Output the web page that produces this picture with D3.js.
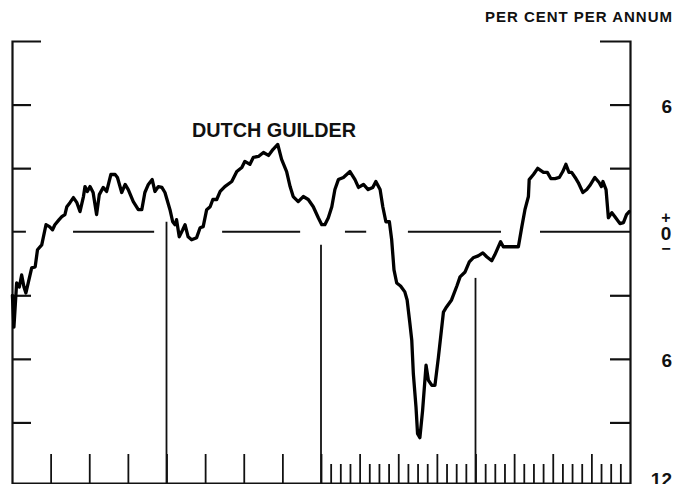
<!DOCTYPE html>
<html>
<head>
<meta charset="utf-8">
<script src="https://cdn.jsdelivr.net/npm/d3@7"></script>
<style>
  body { margin: 0; background: #fff; }
  svg { display: block; }
  text { font-family: "Liberation Sans", Arial, sans-serif; font-weight: bold; fill: #111; }
</style>
</head>
<body>
<div id="chart"></div>
<script>
// time runs in years from the left axis (0) to the right axis (16)
var times = [0.01, 0.05, 0.12, 0.19, 0.25, 0.31, 0.36, 0.42, 0.51, 0.60, 0.66, 0.77, 0.88, 0.97, 1.05, 1.11, 1.22, 1.29, 1.37, 1.42,
  1.50, 1.59, 1.68, 1.76, 1.85, 1.89, 1.95, 2.02, 2.10, 2.19, 2.26, 2.36, 2.45, 2.56, 2.67, 2.73, 2.84, 2.93, 3.01, 3.14,
  3.27, 3.36, 3.44, 3.53, 3.63, 3.70, 3.79, 3.88, 3.96, 4.09, 4.16, 4.22, 4.26, 4.33, 4.42, 4.48, 4.56, 4.65, 4.78, 4.87,
  4.95, 5.04, 5.13, 5.20, 5.30, 5.39, 5.51, 5.69, 5.82, 5.95, 6.03, 6.16, 6.25, 6.38, 6.51, 6.64, 6.76, 6.88, 6.98, 7.11,
  7.20, 7.28, 7.41, 7.54, 7.67, 7.80, 7.93, 8.02, 8.10, 8.19, 8.28, 8.36, 8.45, 8.58, 8.75, 8.88, 8.97, 9.10, 9.22, 9.34,
  9.42, 9.53, 9.60, 9.68, 9.77, 9.83, 9.89, 9.96, 10.06, 10.17, 10.23, 10.30, 10.35, 10.39, 10.46, 10.50, 10.56, 10.63, 10.72, 10.78,
  10.87, 10.95, 11.04, 11.17, 11.25, 11.38, 11.52, 11.60, 11.73, 11.84, 11.94, 12.07, 12.19, 12.29, 12.42, 12.50, 12.65, 12.72, 12.94, 13.11,
  13.20, 13.28, 13.37, 13.39, 13.50, 13.61, 13.76, 13.86, 13.95, 14.06, 14.17, 14.26, 14.34, 14.42, 14.49, 14.58, 14.66, 14.78, 14.88, 14.96,
  15.09, 15.20, 15.26, 15.30, 15.38, 15.44, 15.53, 15.61, 15.74, 15.83, 15.91, 15.98];

// forward premium (+) / discount (-) of the guilder, per cent per annum
var premium = [-3.00, -4.50, -2.42, -2.61, -2.04, -2.61, -2.89, -2.42, -1.71, -1.66, -0.85, -0.62, 0.33, 0.24, 0.09, 0.33, 0.57, 0.71, 0.81, 1.18,
  1.37, 1.61, 1.37, 0.95, 1.66, 2.13, 1.90, 2.13, 1.85, 0.81, 1.75, 2.09, 1.90, 2.70, 2.70, 2.56, 1.85, 2.23, 1.99, 1.42,
  1.04, 1.04, 1.85, 2.23, 2.46, 1.90, 2.13, 2.09, 1.85, 1.04, 0.47, 0.33, 0.57, -0.24, 0.09, 0.33, -0.24, -0.38, -0.28, 0.19,
  0.24, 1.04, 1.18, 1.52, 1.52, 1.90, 2.13, 2.37, 2.84, 3.03, 3.32, 3.18, 3.51, 3.55, 3.74, 3.60, 3.89, 4.12, 3.41, 2.84,
  2.13, 1.66, 1.42, 1.66, 1.52, 1.18, 0.66, 0.33, 0.33, 0.66, 1.18, 1.99, 2.46, 2.56, 2.84, 2.46, 2.09, 2.23, 1.99, 2.09,
  2.37, 1.99, 1.18, 0.47, 0.47, -0.38, -1.80, -2.42, -2.56, -2.84, -3.22, -4.31, -5.12, -6.68, -8.29, -9.53, -9.72, -8.44, -6.30, -7.01,
  -7.25, -7.25, -5.92, -3.79, -3.55, -3.22, -2.55, -2.13, -1.90, -1.42, -1.23, -1.14, -1.00, -1.18, -1.37, -1.09, -0.47, -0.71, -0.71, -0.71,
  0.24, 1.04, 1.66, 2.46, 2.70, 2.99, 2.80, 2.80, 2.51, 2.51, 2.56, 2.84, 3.18, 2.80, 2.80, 2.56, 2.32, 1.85, 1.99, 2.18,
  2.56, 2.32, 2.13, 2.37, 1.99, 0.66, 0.90, 0.71, 0.38, 0.43, 0.81, 0.95];

// pieces of the broken zero line [from, to] in years
var zeroSegments = [[0, 0.36], [1.58, 3.68], [5.44, 7.46], [8.62, 9.17], [10.25, 12.66], [13.67, 16]];

// long vertical markers: year and the value where each one starts
var markerYears = [4, 8, 12];
var markerTops = [0.47, -0.62, -2.18];

var yearTicks = d3.range(1, 16);
var quarterTicks = d3.range(8.25, 16, 0.25).filter(function (d) { return d % 1 !== 0; });
var valueTicks = [-9, -6, -3, 3, 6];
var labelValues = [6, -6, -12];
var labelTexts = ["6", "6", "12"];

var width = 688, height = 484;

var svg = d3.select("#chart").append("svg")
  .attr("width", width)
  .attr("height", height);

var x = d3.scaleLinear().domain([0, 16]).range([12, 630]);
var y = d3.scaleLinear().domain([-12, 9]).range([486, 41]);

// left axis, ticks pointing inward
svg.append("g")
  .attr("transform", "translate(" + x(0) + ",0)")
  .call(d3.axisRight(y).tickValues(valueTicks).tickSize(19).tickSizeOuter(29).tickFormat(""))
  .call(g => g.selectAll("path,line").attr("stroke", "#111").attr("stroke-width", 2.2));

// right axis
svg.append("g")
  .attr("transform", "translate(" + x(16) + ",0)")
  .call(d3.axisLeft(y).tickValues(valueTicks).tickSize(20).tickSizeOuter(30).tickFormat(""))
  .call(g => g.selectAll("path,line").attr("stroke", "#111").attr("stroke-width", 2.2));

// bottom: yearly ticks all along, quarterly ones on the right half
svg.append("g")
  .attr("transform", "translate(0," + (height - 1) + ")")
  .call(d3.axisTop(x).tickValues(yearTicks).tickSize(29).tickSizeOuter(0).tickFormat(""))
  .call(g => g.selectAll("path,line").attr("stroke", "#111").attr("stroke-width", 1.8));

svg.append("g")
  .attr("transform", "translate(0," + (height - 1) + ")")
  .call(d3.axisTop(x).tickValues(quarterTicks).tickSize(19).tickSizeOuter(0).tickFormat(""))
  .call(g => g.select(".domain").remove())
  .call(g => g.selectAll("line").attr("stroke", "#111").attr("stroke-width", 1.8));

// broken zero line
svg.append("g")
  .selectAll("line")
  .data(zeroSegments)
  .join("line")
  .attr("x1", d => x(d[0]))
  .attr("x2", d => x(d[1]))
  .attr("y1", y(0))
  .attr("y2", y(0))
  .attr("stroke", "#111")
  .attr("stroke-width", 2);

// vertical marker lines
svg.append("g")
  .selectAll("line")
  .data(markerYears)
  .join("line")
  .attr("x1", d => x(d))
  .attr("x2", d => x(d))
  .attr("y1", (d, i) => y(markerTops[i]))
  .attr("y2", y(-12))
  .attr("stroke", "#111")
  .attr("stroke-width", 1.8);

// the series
var series = times.map((t, i) => [t, premium[i]]);
var line = d3.line()
  .x(d => x(d[0]))
  .y(d => y(d[1]));

svg.append("path")
  .datum(series)
  .attr("d", line)
  .attr("fill", "none")
  .attr("stroke", "#000")
  .attr("stroke-width", 3.3)
  .attr("stroke-linejoin", "round")
  .attr("stroke-linecap", "round");

// right hand value labels (the bottom "12" sits above its tick, cut by the edge)
svg.append("g")
  .selectAll("text")
  .data(labelValues)
  .join("text")
  .attr("x", 672)
  .attr("y", d => d === -12 ? y(d) : y(d) + 8)
  .attr("text-anchor", "end")
  .attr("font-size", 19)
  .text((d, i) => labelTexts[i]);

// the zero label with its + and - stacked in one text
var zeroLabel = svg.append("text")
  .attr("text-anchor", "middle");

zeroLabel.append("tspan")
  .attr("x", 666)
  .attr("y", y(0) - 9)
  .attr("font-size", 16)
  .text("+");

zeroLabel.append("tspan")
  .attr("x", 666)
  .attr("y", y(0) + 8)
  .attr("font-size", 19)
  .text("0");

zeroLabel.append("tspan")
  .attr("x", 666)
  .attr("y", y(0) + 22)
  .attr("font-size", 16)
  .text("\u2212");

svg.append("text")
  .attr("x", 485)
  .attr("y", 22)
  .attr("font-size", 15)
  .attr("textLength", 187)
  .attr("lengthAdjust", "spacing")
  .text("PER CENT PER ANNUM");

svg.append("text")
  .attr("x", 192)
  .attr("y", 137)
  .attr("font-size", 19.5)
  .attr("textLength", 164)
  .attr("lengthAdjust", "spacingAndGlyphs")
  .text("DUTCH GUILDER");
</script>
</body>
</html>
